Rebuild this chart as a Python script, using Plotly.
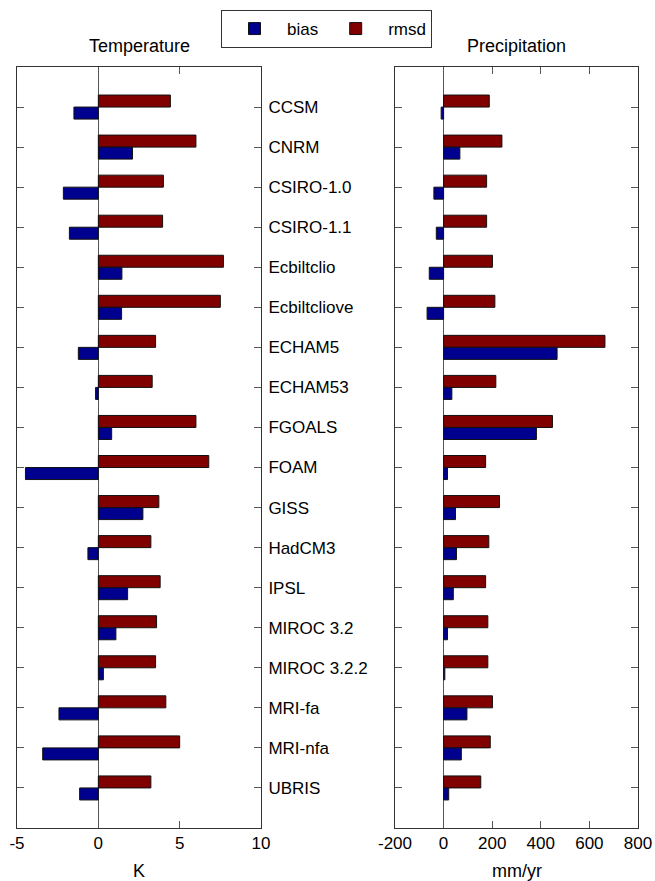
import plotly.graph_objects as go
from plotly.subplots import make_subplots

models = ["CCSM", "CNRM", "CSIRO-1.0", "CSIRO-1.1", "Ecbiltclio", "Ecbiltcliove",
          "ECHAM5", "ECHAM53", "FGOALS", "FOAM", "GISS", "HadCM3", "IPSL",
          "MIROC 3.2", "MIROC 3.2.2", "MRI-fa", "MRI-nfa", "UBRIS"]

temp_bias = [-1.5, 2.1, -2.15, -1.78, 1.45, 1.43, -1.23, -0.17, 0.82, -4.48,
             2.74, -0.64, 1.8, 1.08, 0.31, -2.42, -3.42, -1.15]
temp_rmsd = [4.43, 6.0, 4.0, 3.95, 7.69, 7.5, 3.52, 3.31, 6.0, 6.79,
             3.72, 3.23, 3.8, 3.58, 3.52, 4.15, 5.0, 3.23]

prec_bias = [-10, 67, -40, -30, -59, -68, 467, 34, 382, 16,
             49, 53, 40, 16, 5, 96, 73, 21]
prec_rmsd = [188, 240, 177, 177, 201, 211, 664, 215, 448, 173,
             230, 186, 173, 182, 182, 201, 192, 153]

temp_ticks = [-5, 0, 5, 10]
prec_ticks = [-200, 0, 200, 400, 600, 800]

BIAS_COLOR = "#00008F"
RMSD_COLOR = "#800000"
FONT = "Liberation Sans, Arial, sans-serif"

ypos = list(range(1, len(models) + 1))

fig = make_subplots(rows=1, cols=2, horizontal_spacing=0.2)

for col, (rmsd, bias) in enumerate([(temp_rmsd, temp_bias), (prec_rmsd, prec_bias)], start=1):
    fig.add_trace(go.Bar(y=ypos, x=rmsd, orientation="h", name="rmsd",
                         marker=dict(color=RMSD_COLOR, line=dict(color="#111", width=1)),
                         showlegend=(col == 1), legendrank=2), row=1, col=col)
    fig.add_trace(go.Bar(y=ypos, x=bias, orientation="h", name="bias",
                         marker=dict(color=BIAS_COLOR, line=dict(color="#111", width=1)),
                         showlegend=(col == 1), legendrank=1), row=1, col=col)

L, R, T, B = 17, 17, 67, 53
W, H = 655, 881
pw = W - L - R
ph = H - T - B
d1 = [0, (261 - L) / pw]
d2 = [(395 - L) / pw, 1]

axis_common = dict(showline=True, linecolor="#333", linewidth=1, mirror="ticks",
                   ticks="inside", ticklen=7, tickcolor="#555", showgrid=False,
                   automargin=False,
                   tickfont=dict(family=FONT, size=17, color="black"))

fig.update_xaxes(domain=d1, range=[-5, 10], tickvals=temp_ticks,
                 ticktext=[str(v) for v in temp_ticks],
                 zeroline=True, zerolinecolor="#555", zerolinewidth=1,
                 row=1, col=1, **axis_common)
fig.update_xaxes(domain=d2, range=[-200, 800], tickvals=prec_ticks,
                 ticktext=[str(v) for v in prec_ticks],
                 zeroline=True, zerolinecolor="#555", zerolinewidth=1,
                 row=1, col=2, **axis_common)

fig.update_yaxes(range=[19, 0], tickvals=ypos, ticktext=models, side="right",
                 zeroline=False, ticklabelstandoff=3, row=1, col=1, **axis_common)
fig.update_yaxes(range=[19, 0], tickvals=ypos, showticklabels=False,
                 zeroline=False, row=1, col=2, **axis_common)

def ypix(p):
    return (H - B - p) / ph

for text, dom, yp in [("Temperature", d1, 46), ("Precipitation", d2, 46),
                      ("K", d1, 871), ("mm/yr", d2, 871)]:
    fig.add_annotation(text=text, xref="paper", yref="paper",
                       x=(dom[0] + dom[1]) / 2, y=ypix(yp),
                       xanchor="center", yanchor="middle",
                       showarrow=False, font=dict(family=FONT, size=18, color="black"))

fig.update_layout(
    width=W, height=H,
    margin=dict(l=L, r=R, t=T, b=B, autoexpand=False),
    paper_bgcolor="white", plot_bgcolor="white",
    barmode="group", bargap=0.4, bargroupgap=0,
    font=dict(family=FONT, size=17, color="black"),
    legend=dict(orientation="h", xref="container", yref="container",
                x=326.5 / W, xanchor="center",
                y=1 - 10 / H, yanchor="top",
                bordercolor="#333", borderwidth=1, bgcolor="white",
                font=dict(family=FONT, size=17, color="black"),
                itemwidth=55, tracegroupgap=0),
)

fig.write_html("out.html")
